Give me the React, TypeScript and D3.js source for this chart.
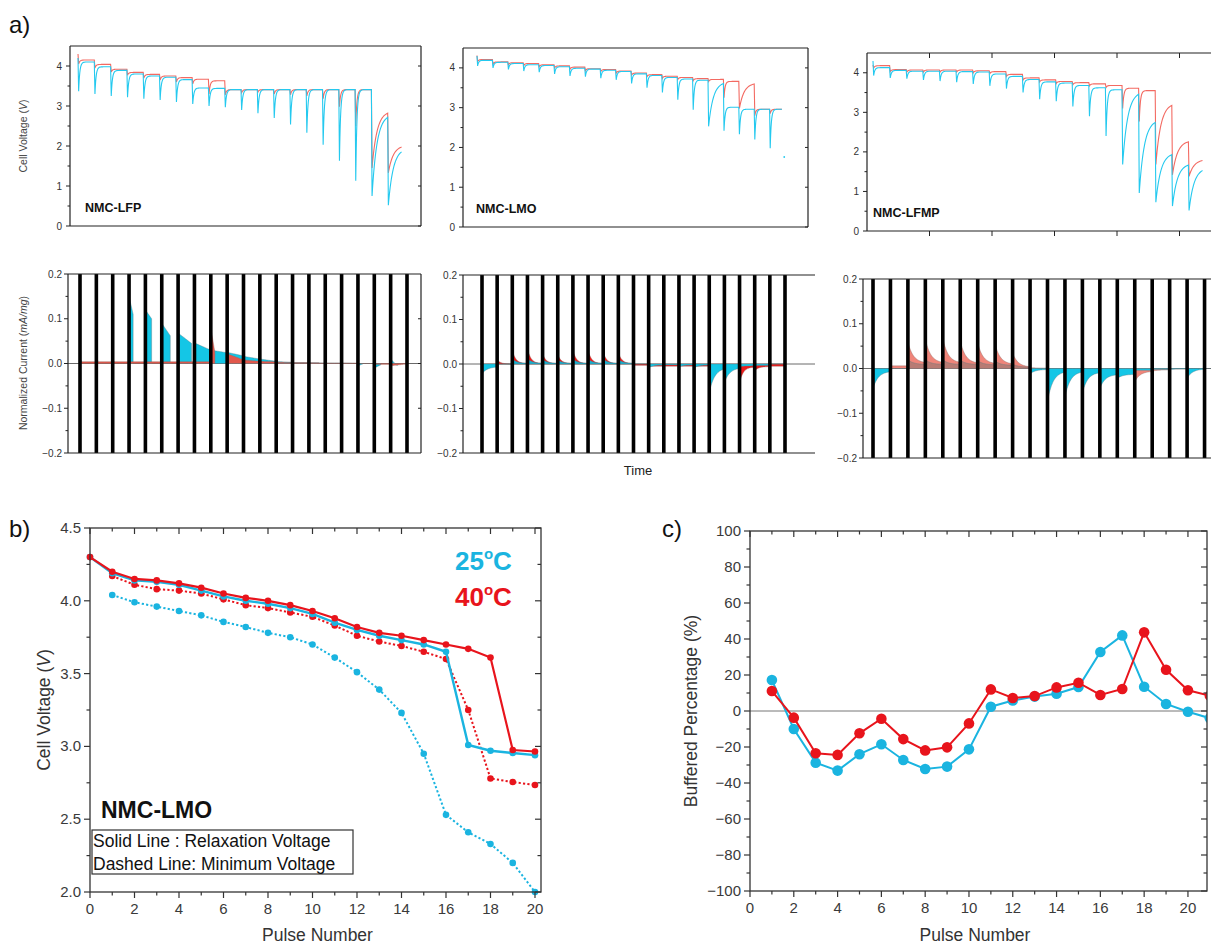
import React from "react";
import * as d3 from "d3";

const FONT = "Arial, 'Liberation Sans', Helvetica, sans-serif";

// ---------------- a) voltage panels (relaxation voltage / spike minimum per pulse) ----------------
const lfpRedRelax = [4.15, 4.04, 3.92, 3.84, 3.79, 3.75, 3.71, 3.67, 3.63, 3.41, 3.41, 3.41, 3.41, 3.41, 3.41, 3.41, 3.41, 3.41, 2.88, 2.02];
const lfpRedMin = [4.05, 3.95, 3.85, 3.77, 3.7, 3.65, 3.6, 3.55, 3.3, 3.28, 3.33, 3.35, 3.3, 3.28, 3.25, 3.18, 2.98, 2.5, 1.45, 1.33];
const lfpCyanRelax = [4.1, 3.98, 3.89, 3.8, 3.75, 3.72, 3.66, 3.45, 3.44, 3.41, 3.41, 3.41, 3.41, 3.41, 3.41, 3.41, 3.41, 3.41, 2.8, 1.95];
const lfpCyanMin = [3.37, 3.3, 3.25, 3.22, 3.18, 3.15, 3.1, 3.05, 3.0, 2.97, 2.9, 2.82, 2.7, 2.54, 2.33, 2.03, 1.63, 1.13, 0.75, 0.52];
const lfpRedSlow = [18, 19];
const lfpCyanSlow = [18, 19];

const lmoRedRelax = [4.21, 4.15, 4.13, 4.11, 4.08, 4.05, 4.02, 3.98, 3.96, 3.92, 3.87, 3.83, 3.79, 3.76, 3.73, 3.71, 3.66, 3.62, 2.96, 2.96];
const lmoRedMin = [4.16, 4.1, 4.08, 4.06, 4.03, 4.0, 3.97, 3.93, 3.91, 3.87, 3.82, 3.78, 3.74, 3.71, 3.68, 3.66, 3.25, 2.98, 2.8, 2.85];
const lmoCyanRelax = [4.19, 4.14, 4.11, 4.08, 4.06, 4.03, 3.99, 3.97, 3.94, 3.91, 3.85, 3.81, 3.76, 3.72, 3.69, 3.65, 3.01, 2.96, 2.96, 2.96];
const lmoCyanMin = [4.05, 4.0, 3.96, 3.92, 3.89, 3.85, 3.8, 3.78, 3.74, 3.7, 3.61, 3.5, 3.38, 3.2, 2.95, 2.53, 2.42, 2.33, 2.2, 1.98];
const lmoRedSlow = [17];
const lmoCyanSlow = [15];
const lmoLastDot = 1.76;

const lfmpRedRelax = [4.18, 4.08, 4.07, 4.07, 4.07, 4.07, 4.05, 4.03, 3.96, 3.87, 3.82, 3.78, 3.75, 3.72, 3.68, 3.61, 3.55, 3.24, 2.29, 1.81];
const lfmpRedMin = [4.12, 4.03, 4.02, 4.02, 4.02, 4.02, 4.0, 3.98, 3.91, 3.82, 3.77, 3.73, 3.7, 3.67, 3.63, 3.1, 2.77, 1.68, 1.42, 1.38];
const lfmpCyanRelax = [4.13, 4.06, 4.04, 4.04, 4.04, 4.03, 4.02, 3.97, 3.91, 3.83, 3.77, 3.74, 3.68, 3.62, 3.57, 3.53, 2.82, 1.98, 1.71, 1.6];
const lfmpCyanMin = [3.93, 3.87, 3.85, 3.82, 3.79, 3.76, 3.72, 3.67, 3.6, 3.5, 3.33, 3.28, 3.15, 2.9, 2.4, 1.68, 0.96, 0.73, 0.63, 0.52];
const lfmpRedSlow = [17, 18, 19];
const lfmpCyanSlow = [15, 16, 17, 18, 19];

// ---------------- a) normalized current panels (per gap between pulses) ----------------
const lfpCyanStart = [0.008, 0.01, 0.005, 0.15, 0.12, 0.09, 0.068, 0.046, 0.03, 0.025, 0.016, 0.01, 0.004, 0.002, 0.002, 0.001, 0.001, -0.005, -0.01, 0.01];
const lfpCyanEnd = [0.006, 0.006, 0.004, 0.11, 0.1, 0.062, 0.045, 0.03, 0.024, 0.017, 0.01, 0.005, 0.003, 0.002, 0.001, 0.001, 0.0, -0.001, -0.003, -0.005];
const lfpCyanCut = [0.1, 0.1, 0.1, 0.25, 0.38, 0.52, 0.82, 1, 1, 1, 1, 1, 1, 1, 1, 1, 1, 0.3, 0.4, 0.4];
const lfpRedStart = [0.004, 0.004, 0.004, 0.004, 0.004, 0.004, 0.004, 0.004, 0.08, 0.022, 0.008, 0.005, 0.003, 0.002, 0.002, 0.001, 0.001, 0.0, -0.002, -0.005];
const lfpRedEnd = [0.004, 0.004, 0.004, 0.004, 0.004, 0.004, 0.004, 0.004, 0.025, 0.008, 0.005, 0.004, 0.002, 0.002, 0.001, 0.001, 0.001, 0.0, -0.002, -0.001];
const lfpRedCut = [1, 1, 1, 1, 1, 1, 1, 1, 0.25, 1, 1, 1, 1, 1, 1, 1, 1, 1, 1, 1];

const lmoRedStart = [-0.003, 0.01, 0.032, 0.036, 0.024, 0.022, 0.032, 0.032, 0.028, 0.027, -0.003, -0.005, -0.005, -0.005, -0.005, -0.005, -0.005, -0.045, -0.016, -0.005];
const lmoRedEnd = [-0.003, 0.0, 0.001, 0.001, 0.001, 0.001, 0.001, 0.001, 0.001, 0.001, -0.003, -0.005, -0.005, -0.005, -0.005, -0.005, -0.005, -0.007, -0.006, -0.005];
const lmoCyanStart = [-0.022, 0.0, 0.011, 0.012, 0.01, 0.009, 0.011, 0.011, 0.011, 0.01, 0.0, -0.008, -0.002, -0.006, -0.008, -0.065, -0.042, -0.006, -0.004, 0.0];
const lmoCyanEnd = [-0.006, 0.0, 0.001, 0.001, 0.001, 0.001, 0.001, 0.001, 0.001, 0.001, 0.0, -0.002, -0.002, -0.002, -0.002, -0.008, -0.008, -0.004, -0.003, 0.0];

const lfmpRedStart = [0, 0.006, 0.06, 0.066, 0.068, 0.062, 0.058, 0.054, 0.035, 0.002, 0, 0, 0, 0, -0.012, -0.03, -0.006, -0.001, 0, 0];
const lfmpRedEnd = [0, 0.006, 0.012, 0.012, 0.012, 0.011, 0.01, 0.009, 0.003, 0.001, 0, 0, 0, 0, -0.008, -0.006, -0.003, -0.001, 0, 0];
const lfmpCyanStart = [-0.045, 0, 0.02, 0.02, 0.02, 0.019, 0.018, 0.017, 0.01, -0.012, -0.075, -0.065, -0.055, -0.045, -0.022, -0.004, -0.002, -0.002, -0.022, 0];
const lfmpCyanEnd = [-0.006, 0, 0.009, 0.009, 0.009, 0.009, 0.008, 0.007, 0.003, -0.002, -0.006, -0.006, -0.008, -0.013, -0.013, -0.004, -0.002, -0.001, -0.001, 0];

// ---------------- b) NMC-LMO relaxation / minimum voltage ----------------
const pulses = d3.range(0, 21);
const bRedSolid = [4.3, 4.2, 4.15, 4.14, 4.12, 4.09, 4.05, 4.02, 4.0, 3.97, 3.93, 3.88, 3.82, 3.78, 3.76, 3.73, 3.7, 3.67, 3.61, 2.975, 2.965];
const bCyanSolid = [4.3, 4.19, 4.14, 4.13, 4.11, 4.07, 4.03, 4.0, 3.98, 3.95, 3.91, 3.85, 3.8, 3.76, 3.73, 3.7, 3.65, 3.01, 2.97, 2.955, 2.94];
const bRedDashed = [NaN, 4.17, 4.11, 4.08, 4.07, 4.05, 4.01, 3.97, 3.95, 3.92, 3.89, 3.83, 3.76, 3.72, 3.69, 3.65, 3.6, 3.25, 2.78, 2.755, 2.735];
const bCyanDashed = [NaN, 4.04, 3.99, 3.96, 3.93, 3.9, 3.855, 3.82, 3.78, 3.75, 3.7, 3.61, 3.51, 3.39, 3.23, 2.95, 2.53, 2.41, 2.33, 2.2, 2.0];

// ---------------- c) buffered percentage ----------------
const cPulses = d3.range(1, 22);
const cCyan = [17.2, -10, -28.7, -33.1, -24, -18.5, -27.2, -32.2, -30.9, -21.3, 2.4, 5.8, 8, 9.6, 13.3, 32.8, 42, 13.5, 3.9, -0.4, -4];
const cRed = [11.1, -3.7, -23.5, -24.4, -12.4, -4.3, -15.6, -21.9, -20.2, -6.9, 12, 7.2, 8.3, 13.1, 15.7, 8.9, 12.2, 43.7, 22.9, 11.5, 8.5];

const VRED = "#f36a62";
const VCYAN = "#24c9ef";
const FCYAN = "#14c6e6";
const BCYAN = "#1ab4e0";
const BRED = "#e8141c";
const AXIS = "#222";

type P = [number, number];

function voltagePoints(relax: number[], mins: number[], start: number, tEnd: number, slow: number[]): P[] {
  const pts: P[] = [];
  let prev = start;
  for (let i = 0; i < relax.length; i++) {
    const t0 = i;
    const t1 = i === relax.length - 1 ? tEnd : i + 1;
    const r = relax[i];
    const m = mins[i];
    const tau = slow.includes(i) ? 0.3 : 0.07;
    pts.push([t0, prev]);
    const n = 30;
    for (let j = 0; j <= n; j++) {
      const u = (t1 - t0 - 0.04) * Math.pow(j / n, 2);
      pts.push([t0 + 0.04 + u, r - (r - m) * Math.exp(-u / tau)]);
    }
    prev = pts[pts.length - 1][1];
  }
  return pts;
}

function gapPoints(k: number, s: number, e: number, cut: number, shape: string, tau: number): P[] {
  const pts: P[] = [];
  const n = 30;
  pts.push([k, 0]);
  for (let j = 0; j <= n; j++) {
    const u = (j / n) * cut;
    let v: number;
    if (shape === "lin") v = s + (e - s) * (u / cut);
    else v = e + (s - e) * Math.exp(-u / tau);
    pts.push([k + u, v]);
  }
  pts.push([k + cut, 0]);
  return pts;
}

function vTicks(scale: any, values: number[], x: number, dir: number, len: number, key: string, stroke = AXIS, sw = 1) {
  return values.map((v, i) => (
    <line key={key + i} x1={x} x2={x + dir * len} y1={scale(v)} y2={scale(v)} stroke={stroke} strokeWidth={sw} />
  ));
}
function hTicks(scale: any, values: number[], y: number, dir: number, len: number, key: string, stroke = AXIS, sw = 1) {
  return values.map((v, i) => (
    <line key={key + i} x1={scale(v)} x2={scale(v)} y1={y} y2={y + dir * len} stroke={stroke} strokeWidth={sw} />
  ));
}
const fmtMinus = (s: string) => s.replace("-", "\u2212");

type VP = {
  id: string; left: number; right: number; top: number; bottom: number;
  p0: number; step: number; tEnd: number;
  redRelax: number[]; redMin: number[]; redStart: number; redSlow: number[];
  cyanRelax: number[]; cyanMin: number[]; cyanStart: number; cyanSlow: number[];
  label: string; labelX: number; labelY: number; showRight: boolean; timeTicks?: number; lastDot?: number;
};

function VoltPanel(p: VP) {
  const x = d3.scaleLinear().domain([(p.left - p.p0) / p.step, (p.right - p.p0) / p.step]).range([p.left, p.right]);
  const y = d3.scaleLinear().domain([0, 4.5]).range([p.bottom, p.top]);
  const line = d3.line<P>().x((d) => x(d[0])).y((d) => y(d[1]));
  const red = voltagePoints(p.redRelax, p.redMin, p.redStart, p.tEnd, p.redSlow);
  const cyan = voltagePoints(p.cyanRelax, p.cyanMin, p.cyanStart, p.tEnd, p.cyanSlow);
  const majors = [0, 1, 2, 3, 4];
  const minors = [0.5, 1.5, 2.5, 3.5];
  let tt: any[] = [];
  if (p.timeTicks) {
    const ts = d3.scaleLinear().domain([0, (p.right - p.left) / p.timeTicks]).range([p.left, p.right]);
    const vals = d3.range(1, Math.floor((p.right - p.left) / p.timeTicks) + 1);
    tt = [...hTicks(ts, vals, p.top, 1, 5, p.id + "tt"), ...hTicks(ts, vals, p.bottom, 1, 5, p.id + "tb")];
  }
  return (
    <g>
      <defs>
        <clipPath id={p.id}>
          <rect x={p.left} y={p.top} width={p.right - p.left} height={p.bottom - p.top} />
        </clipPath>
      </defs>
      <g clipPath={`url(#${p.id})`}>
        <path d={line(red) || ""} fill="none" stroke={VRED} strokeWidth={1.1} />
        <path d={line(cyan) || ""} fill="none" stroke={VCYAN} strokeWidth={1.1} />
        {p.lastDot !== undefined && <circle cx={x(p.tEnd + 0.15)} cy={y(p.lastDot)} r={0.9} fill={VCYAN} />}
      </g>
      <path d={`M${p.left},${p.top}H${p.right}`} stroke={AXIS} strokeWidth={1.2} />
      <path d={`M${p.left},${p.bottom}H${p.right}`} stroke={AXIS} strokeWidth={1.2} />
      <path d={`M${p.left},${p.top}V${p.bottom}`} stroke={AXIS} strokeWidth={1.2} />
      {p.showRight && <path d={`M${p.right},${p.top}V${p.bottom}`} stroke={AXIS} strokeWidth={1.2} />}
      {vTicks(y, majors, p.left, -1, 4, p.id + "M")}
      {vTicks(y, minors, p.left, -1, 2.5, p.id + "m")}
      {p.showRight && vTicks(y, majors, p.right, -1, 3, p.id + "R")}
      {tt}
      {majors.map((v) => (
        <text key={p.id + "l" + v} x={p.left - 8} y={y(v) + 3.5} fontSize={10} textAnchor="end" fill="#333">
          {v}
        </text>
      ))}
      <text x={p.labelX} y={p.labelY} fontSize={12.5} fontWeight="bold" fill="#111">
        {p.label}
      </text>
    </g>
  );
}

type CP = {
  id: string; left: number; right: number; top: number; bottom: number;
  b0: number; step: number; nBars: number; shape: string; tauR: number; tauC: number;
  redS: number[]; redE: number[]; redCut?: number[];
  cyanS: number[]; cyanE: number[]; cyanCut?: number[];
  redColor: string; cyanPosColor: string; redFirst: boolean; showRight: boolean;
};

function CurrentPanel(p: CP) {
  const x = d3.scaleLinear().domain([(p.left - p.b0) / p.step, (p.right - p.b0) / p.step]).range([p.left, p.right]);
  const y = d3.scaleLinear().domain([-0.2, 0.2]).range([p.bottom, p.top]);
  const area = d3.area<P>().x((d) => x(d[0])).y0(y(0)).y1((d) => y(d[1]));
  const redAreas = p.redS.map((s, k) => {
    const cut = p.redCut ? p.redCut[k] : 1;
    return (
      <path key={p.id + "r" + k} d={area(gapPoints(k, s, p.redE[k], cut, p.shape, p.tauR)) || ""}
        fill={p.redColor} stroke="#8a6a66" strokeWidth={0.4} />
    );
  });
  const cyanAreas = p.cyanS.map((s, k) => {
    const cut = p.cyanCut ? p.cyanCut[k] : 1;
    const col = s > 0 ? p.cyanPosColor : FCYAN;
    return (
      <path key={p.id + "c" + k} d={area(gapPoints(k, s, p.cyanE[k], cut, p.shape, p.tauC)) || ""}
        fill={col} stroke="#5a7a80" strokeWidth={0.4} />
    );
  });
  const bars = d3.range(0, p.nBars);
  const majors = [-0.2, -0.1, 0, 0.1, 0.2];
  const minors = [-0.15, -0.05, 0.05, 0.15];
  return (
    <g>
      <defs>
        <clipPath id={p.id}>
          <rect x={p.left} y={p.top} width={p.right - p.left} height={p.bottom - p.top} />
        </clipPath>
      </defs>
      <g clipPath={`url(#${p.id})`}>
        <line x1={p.left} x2={p.right} y1={y(0)} y2={y(0)} stroke="#444" strokeWidth={0.8} />
        {p.redFirst ? redAreas : cyanAreas}
        {p.redFirst ? cyanAreas : redAreas}
        {bars.map((k) => (
          <rect key={p.id + "b" + k} x={x(k) - 1.8} y={p.top} width={3.6} height={p.bottom - p.top} fill="#000" />
        ))}
      </g>
      <path d={`M${p.left},${p.top}H${p.right}`} stroke={AXIS} strokeWidth={1.2} />
      <path d={`M${p.left},${p.bottom}H${p.right}`} stroke={AXIS} strokeWidth={1.2} />
      <path d={`M${p.left},${p.top}V${p.bottom}`} stroke={AXIS} strokeWidth={1.2} />
      {p.showRight && <path d={`M${p.right},${p.top}V${p.bottom}`} stroke={AXIS} strokeWidth={1.2} />}
      {vTicks(y, majors, p.left, -1, 4, p.id + "M")}
      {vTicks(y, minors, p.left, -1, 2.5, p.id + "m")}
      {p.showRight && vTicks(y, majors.slice(1, 4), p.right, -1, 3, p.id + "R")}
      {majors.map((v) => (
        <text key={p.id + "l" + v} x={p.left - 6} y={y(v) + 3.5} fontSize={10} textAnchor="end" fill="#333">
          {fmtMinus(v.toFixed(1))}
        </text>
      ))}
    </g>
  );
}

function PanelB() {
  const left = 90, right = 541, top = 528, bottom = 892;
  const x = d3.scaleLinear().domain([0, 20.27]).range([left, right]);
  const y = d3.scaleLinear().domain([2.0, 4.5]).range([bottom, top]);
  const line = d3.line<number>().defined((d) => !isNaN(d)).x((_, i) => x(pulses[i])).y((d) => y(d));
  const xMaj = d3.range(0, 21, 2);
  const xMin = d3.range(1, 21, 2);
  const yMaj = d3.range(2.0, 4.51, 0.5);
  const yMin = d3.range(2.25, 4.5, 0.5);
  const series = [
    { d: bCyanDashed, c: BCYAN, dash: "2.2,2.2", w: 2, r: 3.3 },
    { d: bRedDashed, c: BRED, dash: "2.2,2.2", w: 2, r: 3.3 },
    { d: bCyanSolid, c: BCYAN, dash: undefined, w: 2.4, r: 3.3 },
    { d: bRedSolid, c: BRED, dash: undefined, w: 2.2, r: 3.3 },
  ];
  return (
    <g>
      {series.map((s, si) => (
        <g key={"bs" + si}>
          <path d={line(s.d) || ""} fill="none" stroke={s.c} strokeWidth={s.w} strokeDasharray={s.dash} />
          {s.d.map((v, i) =>
            isNaN(v) ? null : <circle key={"bp" + si + i} cx={x(pulses[i])} cy={y(v)} r={s.r} fill={s.c} />
          )}
        </g>
      ))}
      <rect x={left} y={top} width={right - left} height={bottom - top} fill="none" stroke="#333" strokeWidth={1.3} />
      {hTicks(x, xMaj, bottom, 1, 6, "bxM", "#333", 1.2)}
      {hTicks(x, xMin, bottom, 1, 3.5, "bxm", "#333", 1.2)}
      {hTicks(x, xMaj, top, 1, 6, "btM", "#333", 1.2)}
      {hTicks(x, xMin, top, 1, 3.5, "btm", "#333", 1.2)}
      {vTicks(y, yMaj, left, -1, 6, "byM", "#333", 1.2)}
      {vTicks(y, yMin, left, -1, 3.5, "bym", "#333", 1.2)}
      {vTicks(y, yMaj, right, -1, 6, "brM", "#333", 1.2)}
      {vTicks(y, yMin, right, -1, 3.5, "brm", "#333", 1.2)}
      {xMaj.map((v) => (
        <text key={"bxl" + v} x={x(v)} y={bottom + 22} fontSize={15} textAnchor="middle" fill="#3a3a3a">{v}</text>
      ))}
      {yMaj.map((v) => (
        <text key={"byl" + v} x={left - 9} y={y(v) + 5} fontSize={15} textAnchor="end" fill="#3a3a3a">{v.toFixed(1)}</text>
      ))}
      <text x={(left + right) / 2 + 2} y={941} fontSize={17.5} textAnchor="middle" fill="#333">Pulse Number</text>
      <text transform={`translate(50,${(top + bottom) / 2}) rotate(-90)`} fontSize={17.5} textAnchor="middle" fill="#333">
        Cell Voltage (<tspan fontStyle="italic">V</tspan>)
      </text>
      <text x={455} y={570} fontSize={26} fontWeight="bold" fill={BCYAN}>
        25<tspan fontSize={15} dy={-11}>o</tspan><tspan dy={11}>C</tspan>
      </text>
      <text x={455} y={606} fontSize={26} fontWeight="bold" fill={BRED}>
        40<tspan fontSize={15} dy={-11}>o</tspan><tspan dy={11}>C</tspan>
      </text>
      <text x={101} y={818} fontSize={23} fontWeight="bold" fill="#111">NMC-LMO</text>
      <rect x={92} y={830} width={261} height={44} fill="none" stroke="#333" strokeWidth={1.2} />
      <text x={93} y={847} fontSize={17.5} fill="#111">Solid Line : Relaxation Voltage</text>
      <text x={93} y={870} fontSize={17.5} fill="#111">Dashed Line: Minimum Voltage</text>
    </g>
  );
}

function PanelC() {
  const left = 750, right = 1207, top = 531, bottom = 891;
  const x = d3.scaleLinear().domain([0, 20.87]).range([left, right]);
  const y = d3.scaleLinear().domain([-100, 100]).range([bottom, top]);
  const line = d3.line<number>().x((_, i) => x(cPulses[i])).y((d) => y(d));
  const xMaj = d3.range(0, 21, 2);
  const xMin = d3.range(1, 21, 2);
  const yMaj = d3.range(-100, 101, 20);
  const yMin = d3.range(-90, 100, 20);
  return (
    <g>
      <defs>
        <clipPath id="cclip">
          <rect x={left} y={top} width={right - left} height={bottom - top} />
        </clipPath>
      </defs>
      <line x1={left} x2={right} y1={y(0)} y2={y(0)} stroke="#777" strokeWidth={1} />
      <g clipPath="url(#cclip)">
        <path d={line(cCyan) || ""} fill="none" stroke={BCYAN} strokeWidth={2} />
        {cCyan.map((v, i) => <circle key={"cc" + i} cx={x(cPulses[i])} cy={y(v)} r={5.3} fill={BCYAN} />)}
        <path d={line(cRed) || ""} fill="none" stroke={BRED} strokeWidth={2} />
        {cRed.map((v, i) => <circle key={"cr" + i} cx={x(cPulses[i])} cy={y(v)} r={5.3} fill={BRED} />)}
      </g>
      <rect x={left} y={top} width={right - left} height={bottom - top} fill="none" stroke="#333" strokeWidth={1.3} />
      {hTicks(x, xMaj, bottom, 1, 6, "cxM", "#333", 1.2)}
      {hTicks(x, xMin, bottom, 1, 3.5, "cxm", "#333", 1.2)}
      {hTicks(x, xMaj, top, 1, 6, "ctM", "#333", 1.2)}
      {hTicks(x, xMin, top, 1, 3.5, "ctm", "#333", 1.2)}
      {vTicks(y, yMaj, left, -1, 6, "cyM", "#333", 1.2)}
      {vTicks(y, yMin, left, -1, 3.5, "cym", "#333", 1.2)}
      {vTicks(y, yMaj, right, -1, 6, "crM", "#333", 1.2)}
      {vTicks(y, yMin, right, -1, 3.5, "crm", "#333", 1.2)}
      {xMaj.map((v) => (
        <text key={"cxl" + v} x={x(v)} y={bottom + 22} fontSize={15} textAnchor="middle" fill="#3a3a3a">{v}</text>
      ))}
      {yMaj.map((v) => (
        <text key={"cyl" + v} x={left - 9} y={y(v) + 5} fontSize={15} textAnchor="end" fill="#3a3a3a">{fmtMinus(String(v))}</text>
      ))}
      <text x={975} y={941} fontSize={17.5} textAnchor="middle" fill="#333">Pulse Number</text>
      <text transform={`translate(697,${(top + bottom) / 2}) rotate(-90)`} fontSize={17.5} textAnchor="middle" fill="#333">
        Buffered Percentage (%)
      </text>
    </g>
  );
}

export default function App() {
  return (
    <svg width={1211} height={945} fontFamily={FONT} style={{ position: "absolute", left: 0, top: 0, background: "#fff" }}>
      <rect x={0} y={0} width={1211} height={945} fill="#fff" />
      <text x={9} y={33} fontSize={24} fill="#111">a)</text>
      <text x={9} y={537} fontSize={24} fill="#111">b)</text>
      <text x={662} y={537} fontSize={24} fill="#111">c)</text>

      <VoltPanel id="v1" left={70} right={421} top={46} bottom={226} p0={78} step={16.3} tEnd={19.85}
        redRelax={lfpRedRelax} redMin={lfpRedMin} redStart={4.3} redSlow={lfpRedSlow}
        cyanRelax={lfpCyanRelax} cyanMin={lfpCyanMin} cyanStart={4.2} cyanSlow={lfpCyanSlow}
        label="NMC-LFP" labelX={85} labelY={212} showRight={true} />
      <VoltPanel id="v2" left={463} right={808} top={48} bottom={227} p0={477} step={15.4} tEnd={19.8}
        redRelax={lmoRedRelax} redMin={lmoRedMin} redStart={4.31} redSlow={lmoRedSlow}
        cyanRelax={lmoCyanRelax} cyanMin={lmoCyanMin} cyanStart={4.3} cyanSlow={lmoCyanSlow}
        label="NMC-LMO" labelX={476} labelY={213} showRight={true} lastDot={lmoLastDot} />
      <VoltPanel id="v3" left={867} right={1215} top={53} bottom={231} p0={873} step={16.6} tEnd={19.85}
        redRelax={lfmpRedRelax} redMin={lfmpRedMin} redStart={4.2} redSlow={lfmpRedSlow}
        cyanRelax={lfmpCyanRelax} cyanMin={lfmpCyanMin} cyanStart={4.3} cyanSlow={lfmpCyanSlow}
        label="NMC-LFMP" labelX={873} labelY={217} showRight={false} timeTicks={62.5} />
      <text transform="translate(27,136) rotate(-90)" fontSize={10.5} textAnchor="middle" fill="#444">
        Cell Voltage (<tspan fontStyle="italic">V</tspan>)
      </text>

      <CurrentPanel id="c1" left={68} right={421} top={274} bottom={453} b0={80} step={16.35} nBars={21} shape="lin"
        tauR={1} tauC={1}
        redS={lfpRedStart} redE={lfpRedEnd} redCut={lfpRedCut} cyanS={lfpCyanStart} cyanE={lfpCyanEnd} cyanCut={lfpCyanCut}
        redColor="#e2584c" cyanPosColor={FCYAN} redFirst={false} showRight={true} />
      <CurrentPanel id="c2" left={463} right={815} top={275} bottom={453} b0={482} step={15.15} nBars={21} shape="exp"
        tauR={0.22} tauC={0.35}
        redS={lmoRedStart} redE={lmoRedEnd} cyanS={lmoCyanStart} cyanE={lmoCyanEnd}
        redColor="#ee1b1b" cyanPosColor="#1ab0d0" redFirst={true} showRight={false} />
      <CurrentPanel id="c3" left={863} right={1215} top={279} bottom={458} b0={873} step={17.45} nBars={20} shape="exp"
        tauR={0.3} tauC={0.3}
        redS={lfmpRedStart} redE={lfmpRedEnd} cyanS={lfmpCyanStart} cyanE={lfmpCyanEnd}
        redColor="#f0857a" cyanPosColor="#b87b74" redFirst={true} showRight={false} />
      <text transform="translate(27,363) rotate(-90)" fontSize={10.5} textAnchor="middle" fill="#444">
        Normalized Current (<tspan fontStyle="italic">mA/mg</tspan>)
      </text>
      <text x={638} y={475} fontSize={13} textAnchor="middle" fill="#222">Time</text>

      <PanelB />
      <PanelC />
    </svg>
  );
}
